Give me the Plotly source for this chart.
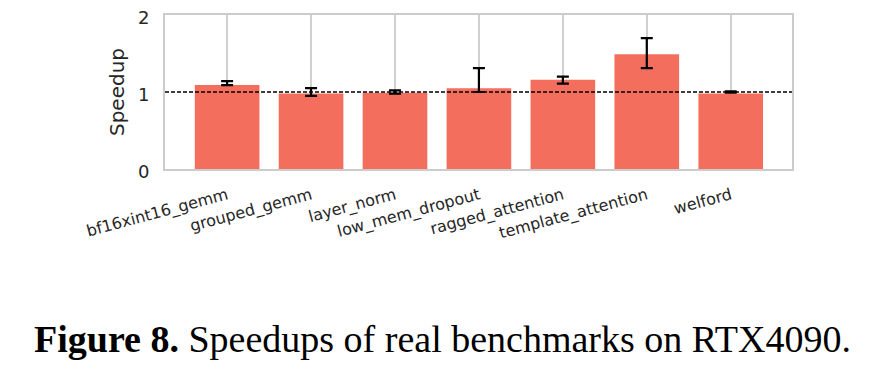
import plotly.graph_objects as go

categories = ["bf16xint16_gemm", "grouped_gemm", "layer_norm", "low_mem_dropout",
              "ragged_attention", "template_attention", "welford"]
speedup = [1.09, 0.98, 0.99, 1.05, 1.16, 1.49, 0.98]
err_low = [1.09, 0.95, 0.98, 1.00, 1.11, 1.31, 0.99]
err_high = [1.14, 1.05, 1.02, 1.31, 1.20, 1.70, 1.01]

mid = [(a + b) / 2 for a, b in zip(err_low, err_high)]
plus = [h - m for h, m in zip(err_high, mid)]
minus = [m - l for l, m in zip(err_low, mid)]

fig = go.Figure()
fig.add_trace(go.Bar(x=categories, y=speedup, marker=dict(color="#F46E5E", line=dict(width=0)),
                     width=0.77, showlegend=False))
fig.add_trace(go.Scatter(x=categories, y=mid, mode="markers", marker=dict(size=1, color="rgba(0,0,0,0)"),
                         error_y=dict(type="data", symmetric=False, array=plus, arrayminus=minus,
                                      color="black", thickness=2.2, width=6),
                         showlegend=False))
fig.add_shape(type="line", xref="paper", yref="y", x0=0, x1=1, y0=1, y1=1,
              line=dict(color="black", width=1.3, dash="4px,2px"), layer="above")

fig.update_layout(
    width=870, height=371,
    margin=dict(l=157, r=86, t=7, b=210, autoexpand=False),
    plot_bgcolor="white", paper_bgcolor="white",
    font=dict(family="DejaVu Sans", color="#262626"),
    annotations=[dict(
        text="<b>Figure 8.</b> Speedups of real benchmarks on RTX4090.",
        xref="paper", yref="paper", x=0.443, y=-1.105, xanchor="center", yanchor="middle",
        showarrow=False, font=dict(family="Liberation Serif", size=38, color="black"))]
)
fig.update_xaxes(range=[-0.74, 6.73], showgrid=True, gridcolor="#d0d0d0", gridwidth=1.5,
                 showline=True, linecolor="#cccccc", linewidth=2, mirror=True,
                 tickangle=-15, tickfont=dict(size=16), ticks="", ticklen=0,
                 ticklabelstandoff=9)
fig.update_yaxes(range=[0, 2], tickvals=[0, 1, 2], showgrid=False, zeroline=False,
                 showline=True, linecolor="#cccccc", linewidth=2, mirror=True,
                 tickfont=dict(size=18), ticks="", ticklabelstandoff=10,
                 ticklabeloverflow="allow", ticklabelshift=3,
                 title=dict(text="Speedup", font=dict(size=20), standoff=8))

fig.write_html("out.html")
